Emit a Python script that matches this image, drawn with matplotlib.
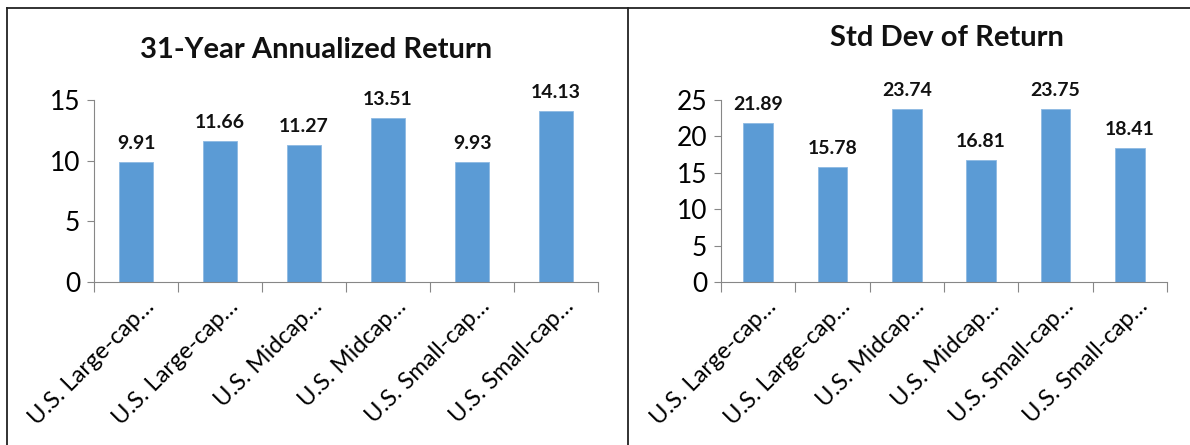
import numpy as np
import matplotlib
matplotlib.use("Agg")
import matplotlib.pyplot as plt
import matplotlib.transforms as mtransforms
from matplotlib.lines import Line2D

plt.rcParams['font.family'] = ['Lato', 'DejaVu Sans']

# data
categories = ["U.S. Large-cap…", "U.S. Large-cap…", "U.S. Midcap…",
              "U.S. Midcap…", "U.S. Small-cap…", "U.S. Small-cap…"]
annual_return = [9.91, 11.66, 11.27, 13.51, 9.93, 14.13]
std_dev = [21.89, 15.78, 23.74, 16.81, 23.75, 18.41]

bar_color = "#5B9BD5"
axis_color = "#878787"

fig = plt.figure(figsize=(11.9, 4.45), dpi=100)

# panel frame lines
for xs, ys in [([7 / 1190, 1.0], [1 - 8 / 445, 1 - 8 / 445]),
               ([7 / 1190, 7 / 1190], [0, 1 - 8 / 445]),
               ([628 / 1190, 628 / 1190], [0, 1 - 8 / 445])]:
    fig.add_artist(Line2D(xs, ys, transform=fig.transFigure, color="#222222", lw=1.3))


def draw_panel(rect, values, ymax, step, title, title_xy):
    ax = fig.add_axes(rect)
    x = np.arange(len(values))
    ax.bar(x, values, width=0.4, color=bar_color, edgecolor="#8DB9E2", linewidth=0.6, zorder=2)
    for xi, v in zip(x, values):
        ax.text(xi, v + ymax * 0.055, f"{v:.2f}", ha="center", va="bottom",
                fontsize=14, fontweight="bold", color="#111111")
    ax.set_xlim(-0.5, len(values) - 0.5)
    ax.set_ylim(0, ymax)
    ax.set_yticks(np.arange(0, ymax + 0.1, step))
    ax.tick_params(axis="y", labelsize=19, length=5, width=0.8, color=axis_color, pad=5)
    # category separators as major ticks, labels at minor ticks
    ax.set_xticks(np.arange(-0.5, len(values), 1.0))
    ax.set_xticklabels([])
    ax.tick_params(axis="x", which="major", length=7, width=0.8, color=axis_color, direction="out")
    ax.set_xticks(x, minor=True)
    ax.set_xticklabels(categories, minor=True, rotation=45, ha="right",
                       rotation_mode="anchor", fontsize=17)
    ax.tick_params(axis="x", which="minor", length=0, pad=10)
    shift = mtransforms.ScaledTranslation(7 / 100, 0, fig.dpi_scale_trans)
    for lab in ax.get_xticklabels(minor=True):
        lab.set_transform(lab.get_transform() + shift)
    for side in ["top", "right"]:
        ax.spines[side].set_visible(False)
    for side in ["left", "bottom"]:
        ax.spines[side].set_color(axis_color)
        ax.spines[side].set_linewidth(0.8)
    fig.text(title_xy[0], title_xy[1], title, ha="center", va="center",
             fontsize=21, fontweight="bold", color="#111111")
    return ax


draw_panel([94 / 1190, 1 - 282 / 445, 504 / 1190, 182 / 445], annual_return, 15, 5,
           "31-Year Annualized Return", (316 / 1190, 1 - 50 / 445))
draw_panel([721 / 1190, 1 - 282 / 445, 446 / 1190, 182 / 445], std_dev, 25, 5,
           "Std Dev of Return", (947 / 1190, 1 - 38 / 445))

fig.savefig("out.png", dpi=100)
